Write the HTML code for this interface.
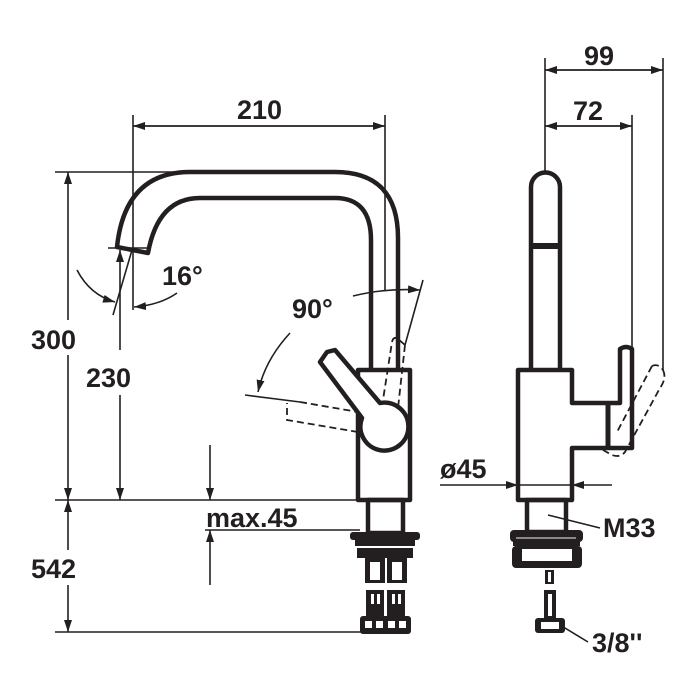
<!DOCTYPE html>
<html><head><style>
html,body{margin:0;padding:0;background:#fff;}
svg{display:block;}
text{font-family:"Liberation Sans",Arial,sans-serif;font-weight:bold;font-size:27px;fill:#231f20;}
</style></head><body>
<svg width="700" height="700" viewBox="0 0 700 700" xmlns="http://www.w3.org/2000/svg">
<defs>
<marker id="a" viewBox="0 0 12 8" refX="12" refY="4" markerWidth="12" markerHeight="8" markerUnits="userSpaceOnUse" orient="auto">
<path d="M0,0 L12,4 L0,8 Z" fill="#231f20"/></marker>
</defs>
<g stroke="#231f20" fill="none" stroke-width="1.6">
<!-- dimension extension lines -->
<line x1="55" y1="172" x2="190" y2="172"/>
<line x1="55" y1="500" x2="358" y2="500"/>
<line x1="55" y1="632" x2="365" y2="632"/>
<line x1="205" y1="530" x2="360" y2="530"/>
<line x1="133" y1="115" x2="133" y2="310"/>
<line x1="385" y1="115" x2="385" y2="290"/>
<line x1="108" y1="248" x2="150" y2="248"/>
<!-- 210 -->
<line x1="385" y1="126" x2="133" y2="126" marker-end="url(#a)"/>
<line x1="133" y1="126" x2="385" y2="126" marker-end="url(#a)"/>
<!-- 300 -->
<line x1="68" y1="320" x2="68" y2="172" marker-end="url(#a)"/>
<line x1="68" y1="355" x2="68" y2="500" marker-end="url(#a)"/>
<!-- 230 -->
<line x1="120" y1="350" x2="120" y2="250" marker-end="url(#a)"/>
<line x1="120" y1="395" x2="120" y2="500" marker-end="url(#a)"/>
<!-- 542 -->
<line x1="68" y1="550" x2="68" y2="500" marker-end="url(#a)"/>
<line x1="68" y1="585" x2="68" y2="632" marker-end="url(#a)"/>
<!-- max 45 -->
<line x1="210" y1="445" x2="210" y2="500" marker-end="url(#a)"/>
<line x1="210" y1="585" x2="210" y2="530" marker-end="url(#a)"/>
<!-- 16 deg -->
<line x1="132" y1="250" x2="113" y2="315"/>
<path d="M77,270 Q90,295 115,302" marker-end="url(#a)"/>
<path d="M177,293 Q160,305 134,307" marker-end="url(#a)"/>
<!-- 90 deg -->
<path d="M290,333 Q265,360 258,392" marker-end="url(#a)"/>
<path d="M353,296 Q385,288 420,290" marker-end="url(#a)"/>
<line x1="423" y1="280" x2="405" y2="345"/>
<line x1="245" y1="395" x2="300" y2="402"/>
</g>
<!-- dashed levers -->
<g stroke="#231f20" fill="none" stroke-width="1.8" stroke-dasharray="7,4">
<path d="M300,402 L358,412 M358,432 L287,420 L287,403"/>
<path d="M405,345 L397,338 Q393,337 392,342 L383,400 M405,345 L398,408"/>
<path d="M663,370 Q667,378 660,388 L625,452 Q620,458 612,455 L603,450 M652,366 Q658,363 663,370 M652,366 L617,432"/>
</g>
<!-- left view faucet -->
<g stroke="#231f20" fill="none" stroke-width="4.5" stroke-linejoin="round">
<path d="M398,370 L398,238 Q398,172 335,172 L190,172 Q125,172 117,247 L148,253 Q158,198 200,198 L335,198 Q371,198 371,240 L371,370"/>
<rect x="358" y="370" width="52" height="130"/>
<path d="M327,352 L320,362 L362,418 A24,24 0 1 0 380,403 L335,350 Z" fill="#fff"/>
<rect x="368" y="500" width="35" height="33"/>
</g>
<!-- base fittings left -->
<g fill="#231f20">
<rect x="350" y="532" width="70" height="8" rx="3"/>
<rect x="355" y="540" width="60" height="6"/>
<rect x="357" y="548" width="56" height="10"/>
<rect x="365" y="558" width="20" height="25"/>
<rect x="387" y="558" width="20" height="25"/>
<rect x="366" y="590" width="18" height="28"/>
<rect x="387" y="590" width="18" height="28"/>
<rect x="360" y="616" width="51" height="18" rx="3"/>
</g>
<g fill="#fff">
<rect x="370" y="562" width="10" height="18"/><rect x="392" y="562" width="10" height="18"/>
<rect x="371" y="594" width="3" height="10"/><rect x="377" y="594" width="3" height="10"/>
<rect x="392" y="594" width="3" height="10"/><rect x="398" y="594" width="3" height="10"/>
<rect x="365" y="621" width="7" height="7"/><rect x="376" y="621" width="7" height="7"/>
<rect x="388" y="621" width="7" height="7"/><rect x="399" y="621" width="7" height="7"/>
</g>
<!-- right view dims -->
<g stroke="#231f20" fill="none" stroke-width="1.6">
<line x1="545" y1="58" x2="545" y2="172"/>
<line x1="663" y1="58" x2="663" y2="370"/>
<line x1="632" y1="115" x2="632" y2="350"/>
<line x1="545" y1="70" x2="663" y2="70" marker-end="url(#a)"/>
<line x1="663" y1="70" x2="545" y2="70" marker-end="url(#a)"/>
<line x1="545" y1="126" x2="632" y2="126" marker-end="url(#a)"/>
<line x1="632" y1="126" x2="545" y2="126" marker-end="url(#a)"/>
<line x1="440" y1="485" x2="518" y2="485" marker-end="url(#a)"/>
<line x1="612" y1="485" x2="572" y2="485" marker-end="url(#a)"/>
<line x1="518" y1="485" x2="572" y2="485"/>
<line x1="548" y1="515" x2="600" y2="528"/>
<line x1="560" y1="625" x2="588" y2="642"/>
</g>
<!-- right view faucet -->
<g stroke="#231f20" fill="none" stroke-width="4.5" stroke-linejoin="round">
<path d="M531,370 L531,187 A14.5,14.5 0 0 1 560,187 L560,370"/>
<path d="M518,370 L572,370 L572,403 L620,403 L620,349 Q626,345 632,349 L632,448 L572,448 L572,500 L518,500 Z"/>
<line x1="608" y1="405" x2="608" y2="446" stroke-width="5"/>
<rect x="527" y="500" width="39" height="32"/>
</g>
<rect x="531" y="243" width="29" height="6" fill="#231f20"/>
<g fill="#231f20">
<rect x="510" y="530" width="73" height="12" rx="4"/>
<rect x="513" y="540" width="67" height="6"/>
<rect x="512" y="546" width="70" height="22" rx="4"/>
<rect x="545" y="570" width="9" height="14"/>
<rect x="544" y="590" width="12" height="30"/>
<rect x="535" y="618" width="30" height="15" rx="3"/>
</g>
<g fill="#fff">
<rect x="522" y="549" width="50" height="12"/>
<rect x="548" y="572" width="3" height="10"/>
<rect x="548" y="594" width="4" height="22"/>
<rect x="541" y="622" width="18" height="7"/>
</g>
<rect x="516" y="537" width="60" height="2" fill="#888"/>
<!-- labels -->
<text x="237" y="119">210</text>
<text x="31" y="349">300</text>
<text x="86" y="387">230</text>
<text x="31" y="578">542</text>
<text x="206" y="527">max.45</text>
<text x="162" y="285">16°</text>
<text x="292" y="318">90°</text>
<text x="584" y="65">99</text>
<text x="573" y="120">72</text>
<text x="440" y="478">ø45</text>
<text x="603" y="537">M33</text>
<text x="592" y="652">3/8''</text>
</svg>
</body></html>
